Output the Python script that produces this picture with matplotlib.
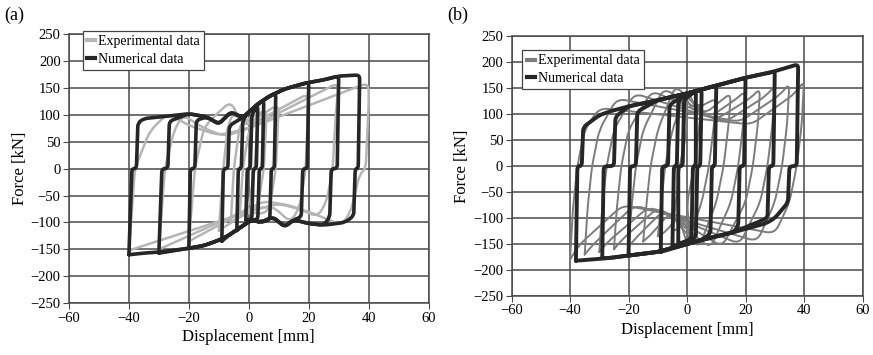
import matplotlib
matplotlib.use('Agg')
import matplotlib.pyplot as plt
from matplotlib.path import Path
from matplotlib.patches import PathPatch
import numpy as np

plt.rcParams['font.family'] = ['Liberation Serif', 'DejaVu Serif']

# ---------------- panel (a) ----------------
# numerical: shared paths
a_top_x = [-35, -28, -20, -14, -10, -6, -2, 0, 3, 7, 12, 19, 25, 30]
a_top_f = [93, 97, 102, 96, 83, 105, 95, 105, 120, 135, 148, 159, 165, 172]
a_bot_x = [32, 25, 20, 15, 12, 8, 4, 1, -3, -7, -10, -15, -20, -30, -35]
a_bot_f = [-100, -105, -102, -95, -108, -90, -100, -95, -110, -125, -133, -143, -148, -155, -157]
# numerical cycles
a_xn = [-1, -4, -9, -20, -30, -40]
a_fn = [-95, -115, -135, -148, -157, -160]
a_up0 = [-0.5, -3.5, -8.5, -19.5, -29, -39]
a_up1 = [0.5, -2.5, -7, -18, -27, -37.5]
a_upk = [100, 90, 80, 90, 88, 85]
a_xp = [3, 5, 9, 20, 30, 37]
a_fp = [118, 127, 140, 160, 172, 174]
a_dn0 = [2.5, 4.5, 8.5, 19.5, 29.5, 36.5]
a_dn1 = [1.5, 3.5, 7.5, 18, 27.5, 35.5]
a_dnk = [-95, -95, -95, -90, -90, -88]

# experimental loops (a)
a_exp_x = [
    [-3, -2, 0, 3, 2, 0, -3],
    [-6, -5, -3, -1, 6, 5, 3, 0, -6],
    [-10, -8.5, -7, -5, -2, 0, 10, 9, 7, 5, 0, -10],
    [-20, -18, -15, -12, -6, -3, 0, 20, 19, 17, 14, 8, 0, -20],
    [-30, -28, -25, -22, -15, -8, 0, 30, 29, 28, 26, 23, 15, 5, 0, -30],
    [-40, -38, -33, -27, -20, -10, 0, 40, 40, 39, 37, 34, 31, 20, 10, 0, -40],
]
a_exp_f = [
    [-85, 0, 70, 95, 0, -70, -85],
    [-100, 0, 80, 90, 110, 0, -70, -80, -100],
    [-115, 0, 80, 105, 85, 85, 120, 0, -70, -85, -80, -115],
    [-135, 0, 75, 95, 125, 90, 80, 140, 0, -70, -100, -70, -75, -135],
    [-150, 0, 70, 100, 75, 60, 75, 160, 100, 0, -60, -90, -70, -60, -75, -150],
    [-152, 0, 70, 103, 80, 62, 75, 160, 120, 0, -10, -80, -105, -80, -65, -80, -152],
]

# ---------------- panel (b) ----------------
b_top_x = [-35, -30, -26, -20, -10, 0, 10, 20, 29, 38]
b_top_f = [85, 98, 106, 115, 127, 140, 155, 170, 181, 196]
b_bot_x = [35, 34, 30, 27, 16, 5, -10, -20, -27, -38]
b_bot_f = [-70, -85, -100, -110, -127, -142, -165, -172, -177, -182]
b_xn = [-3, -5, -9, -20, -29, -38]
b_fn = [-150, -155, -165, -172, -177, -182]
b_up0 = [-3, -4.5, -8.5, -19.5, -28.5, -37.5]
b_up1 = [-1.5, -3.5, -6.5, -17.5, -25, -36]
b_upk = [128, 125, 118, 105, 95, 75]
b_xp = [3, 5, 10, 20, 30, 38]
b_fp = [145, 147, 155, 170, 182, 196]
b_dn0 = [3, 4.5, 9.5, 19.5, 29.5, 37.5]
b_dn1 = [2, 3.5, 8.5, 18, 28, 35]
b_dnk = [-140, -138, -130, -115, -100, -70]

# experimental loops (b): amplitude, peaks, humps and mid levels
b_amp = [5, 10, 15, 20, 25, 30, 35, 40]
b_efp = [120, 130, 140, 145, 150, 155, 160, 165]
b_efn = [-125, -135, -145, -155, -160, -165, -170, -180]
b_hx = [-1, 0, -4, -8, -12, -18, -24, -30]
b_hf = [140, 150, 155, 150, 145, 140, 130, 112]
b_mx = [1, 3, 6, 8, 10, 13, 18, 22]
b_mf = [115, 110, 100, 95, 90, 85, 85, 80]
b_pf = [115, 122, 128, 130, 132, 135, 138, 140]
b_bhf = [-140, -150, -158, -158, -155, -150, -145, -130]
b_bmf = [-105, -95, -90, -85, -80, -78, -75, -75]
b_bpf = [-118, -125, -130, -135, -140, -145, -150, -152]


def num_loop(xn, fn, up0, up1, upk, xp, fp, dn0, dn1, dnk, tx, tf, bx, bf):
    xs = [xn, up0, up1, up1 + 0.5]
    fs = [fn, 0, 0, upk]
    for x, f in zip(tx, tf):
        if up1 + 1.5 < x < xp:
            xs.append(x)
            fs.append(f)
    xs += [xp, dn0, dn1, dn1 - 0.5]
    fs += [fp, 0, 0, dnk]
    for x, f in zip(bx, bf):
        if xn < x < dn1 - 1.5:
            xs.append(x)
            fs.append(f)
    xs.append(xn)
    fs.append(fn)
    return xs, fs


def exp_loop_b(a, fp, fn, hx, hf, mx, mf, pf, bhf, bmf, bpf):
    xs = [-a, -a + 1, -a + 2.5, -a + 5, hx, mx, a - 3, a,
          a - 0.8, a - 2.5, a - 5, -hx, -mx, -a + 3, -a]
    fs = [fn, -80, 0, 70, hf, mf, pf, fp,
          80, 0, -70, bhf, bmf, bpf, fn]
    return xs, fs


def rounded(ax, xs, fs, r=5.0, **kw):
    # corners softened with quadratic curves; r is the corner size in pixels
    sx, sy = 3.0, 0.54          # pixels per data unit, roughly
    pts = [(x * sx, f * sy) for x, f in zip(xs, fs)]
    verts = [pts[0]]
    codes = [Path.MOVETO]
    for i in range(1, len(pts) - 1):
        p0, p1, p2 = np.array(pts[i - 1]), np.array(pts[i]), np.array(pts[i + 1])
        d1 = np.hypot(*(p1 - p0))
        d2 = np.hypot(*(p2 - p1))
        c1 = p1 + (p0 - p1) * min(r, d1 / 2) / max(d1, 1e-9)
        c2 = p1 + (p2 - p1) * min(r, d2 / 2) / max(d2, 1e-9)
        verts += [tuple(c1), tuple(p1), tuple(c2)]
        codes += [Path.LINETO, Path.CURVE3, Path.CURVE3]
    verts.append(pts[-1])
    codes.append(Path.LINETO)
    verts = [(vx / sx, vy / sy) for vx, vy in verts]
    ax.add_patch(PathPatch(Path(verts, codes), fill=False, capstyle='round',
                           joinstyle='round', **kw))


fig = plt.figure(figsize=(8.73, 3.55), dpi=100)
ax1 = fig.add_axes([0.079, 0.146, 0.412, 0.758])
ax2 = fig.add_axes([0.586, 0.166, 0.402, 0.732])

grey_a = '#b5b5b5'
grey_b = '#7c7c7c'
dark = '#262626'

for xs, fs in zip(a_exp_x, a_exp_f):
    rounded(ax1, xs, fs, r=8, edgecolor=grey_a, lw=1.8, zorder=3)
for i in range(len(a_xn)):
    xs, fs = num_loop(a_xn[i], a_fn[i], a_up0[i], a_up1[i], a_upk[i], a_xp[i], a_fp[i],
                      a_dn0[i], a_dn1[i], a_dnk[i], a_top_x, a_top_f, a_bot_x, a_bot_f)
    rounded(ax1, xs, fs, r=4, edgecolor=dark, lw=2.6, zorder=4)

for i in range(len(b_amp)):
    xs, fs = exp_loop_b(b_amp[i], b_efp[i], b_efn[i], b_hx[i], b_hf[i], b_mx[i], b_mf[i],
                        b_pf[i], b_bhf[i], b_bmf[i], b_bpf[i])
    rounded(ax2, xs, fs, r=9, edgecolor=grey_b, lw=1.4, zorder=3)
for i in range(len(b_xn)):
    xs, fs = num_loop(b_xn[i], b_fn[i], b_up0[i], b_up1[i], b_upk[i], b_xp[i], b_fp[i],
                      b_dn0[i], b_dn1[i], b_dnk[i], b_top_x, b_top_f, b_bot_x, b_bot_f)
    rounded(ax2, xs, fs, r=4, edgecolor=dark, lw=2.8, zorder=4)

for ax, gcol in [(ax1, grey_a), (ax2, grey_b)]:
    ax.set_xlim(-60, 60)
    ax.set_ylim(-250, 250)
    ax.set_xticks(np.arange(-60, 61, 20))
    ax.set_yticks(np.arange(-250, 251, 50))
    ax.set_xticklabels([str(v).replace('-', '\u2212') for v in range(-60, 61, 20)])
    ax.set_yticklabels([str(v).replace('-', '\u2212') for v in range(-250, 251, 50)])
    ax.grid(True, color='#4a4a4a', lw=1.1)
    ax.set_axisbelow(True)
    for s in ax.spines.values():
        s.set_color('#4a4a4a')
        s.set_linewidth(1.1)
    ax.tick_params(direction='out', length=4, color='#4a4a4a', labelsize=10.5, pad=2)
    ax.set_xlabel('Displacement [mm]', fontsize=12, labelpad=3)
    ax.set_ylabel('Force [kN]', fontsize=12, labelpad=2)
    ax.plot([], [], color=gcol, lw=3, label='Experimental data')
    ax.plot([], [], color=dark, lw=3, label='Numerical data')

leg1 = ax1.legend(loc='upper left', bbox_to_anchor=(0.039, 1.012), borderaxespad=0,
                  fontsize=10, handlelength=0.6, handletextpad=0.2, fancybox=False,
                  edgecolor='#444444', framealpha=1, borderpad=0.3, labelspacing=0.35)
leg2 = ax2.legend(loc='upper left', bbox_to_anchor=(0.031, 0.946), borderaxespad=0,
                  fontsize=10, handlelength=0.6, handletextpad=0.2, fancybox=False,
                  edgecolor='#444444', framealpha=1, borderpad=0.3, labelspacing=0.35)
for leg in (leg1, leg2):
    leg.get_frame().set_linewidth(0.9)
    leg.set_zorder(10)

fig.text(0.005, 0.945, '(a)', fontsize=13)
fig.text(0.512, 0.945, '(b)', fontsize=13)

fig.savefig('out.png', dpi=100)
